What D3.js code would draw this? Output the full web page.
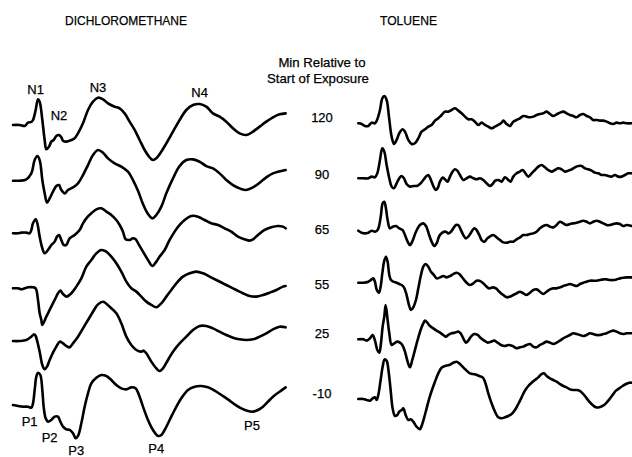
<!DOCTYPE html>
<html><head><meta charset="utf-8">
<script src="https://cdn.jsdelivr.net/npm/d3@7"></script>
<style>
html,body{margin:0;padding:0;background:#fff;}
svg text{font-family:"Liberation Sans",Arial,Helvetica,sans-serif;fill:#000;stroke:#000;stroke-width:0.25px;}
</style></head>
<body>
<svg id="chart" width="632" height="457"></svg>
<script>
// ---------- DATA: [time, amplitude] samples ----------
const panels = ["DICHLOROMETHANE", "TOLUENE"];
const timeLabels = ["120", "90", "65", "55", "25", "-10"];

const dcm120 = [[0,0],[20,0],[35,-3],[45,7],[55,9],[60,15],[68,45],[75,77],[80,70],[88,15],[95,-45],[100,-73],[108,-65],[115,-50],[122,-45],[130,-33],[138,-30],[145,-37],[150,-47],[160,-50],[175,-45],[185,-40],[195,-25],[210,5],[225,45],[240,70],[255,82],[270,77],[285,65],[305,55],[320,50],[335,35],[350,10],[365,-15],[380,-45],[395,-75],[410,-97],[420,-105],[430,-100],[445,-80],[460,-55],[480,-20],[500,15],[520,45],[540,60],[560,63],[580,55],[600,35],[620,25],[640,10],[660,-10],[680,-25],[700,-30],[720,-20],[740,-5],[760,10],[780,23],[800,32],[818,35]];
const dcm90 = [[0,0],[20,0],[40,4],[55,22],[65,62],[73,74],[80,62],[88,2],[95,-38],[102,-66],[110,-53],[120,-33],[130,-16],[138,-13],[145,-28],[155,-38],[165,-28],[180,-20],[195,-8],[210,17],[225,47],[240,77],[255,92],[270,84],[285,67],[305,52],[325,42],[345,27],[360,2],[375,-30],[390,-70],[405,-100],[418,-113],[430,-103],[445,-78],[460,-38],[480,7],[500,44],[520,62],[540,64],[560,57],[580,44],[600,37],[620,22],[640,2],[660,-13],[680,-23],[700,-28],[720,-20],[740,-6],[760,10],[780,22],[818,32]];
const dcm65 = [[0,0],[15,0],[25,2],[40,2],[50,0],[55,10],[60,30],[68,42],[73,30],[80,-10],[88,-45],[95,-60],[105,-50],[115,-35],[125,-25],[132,-10],[138,-5],[145,-20],[152,-35],[160,-35],[170,-15],[185,-5],[200,10],[210,30],[220,45],[235,60],[250,72],[265,75],[280,65],[295,55],[310,40],[320,25],[330,5],[338,-18],[350,-20],[360,-15],[368,-18],[378,-35],[390,-55],[405,-80],[418,-98],[430,-85],[440,-70],[455,-50],[470,-20],[485,5],[500,25],[515,40],[535,52],[555,50],[575,40],[595,30],[615,25],[635,15],[655,5],[675,-10],[695,-18],[710,-22],[720,-18],[735,-5],[755,10],[775,18],[795,22],[810,20],[818,15]];
const dcm55 = [[0,0],[15,0],[25,-3],[35,0],[45,3],[60,3],[68,0],[75,-35],[80,-75],[85,-95],[88,-110],[100,-85],[110,-65],[125,-35],[135,-15],[142,-7],[150,-17],[160,-25],[175,-15],[190,5],[205,30],[220,65],[235,85],[250,105],[265,115],[280,110],[295,95],[310,75],[325,50],[340,20],[355,0],[370,-10],[385,-25],[400,-40],[415,-50],[430,-57],[445,-45],[460,-25],[475,-5],[490,15],[510,35],[530,45],[550,50],[570,45],[590,35],[610,25],[630,15],[650,5],[670,-5],[690,-15],[710,-23],[730,-25],[750,-20],[770,-13],[790,-5],[810,5],[818,7]];
const dcm25 = [[0,0],[20,0],[40,3],[55,13],[63,20],[68,15],[73,-2],[80,-32],[88,-72],[95,-85],[102,-77],[110,-57],[120,-35],[130,-17],[140,-2],[150,-7],[160,-15],[170,-19],[180,-7],[195,13],[210,38],[225,63],[240,88],[255,110],[270,118],[290,103],[310,83],[325,53],[340,13],[355,-12],[370,-27],[385,-32],[392,-29],[400,-37],[415,-62],[430,-82],[440,-90],[450,-82],[465,-57],[480,-32],[500,-7],[520,13],[540,33],[560,45],[580,45],[600,38],[620,28],[640,18],[660,10],[680,5],[700,3],[720,5],[740,13],[760,23],[780,35],[800,43],[818,41]];
const dcmM10 = [[0,0],[15,-3],[30,-5],[45,-5],[55,-8],[60,5],[65,45],[70,85],[75,97],[82,90],[88,45],[92,-5],[98,-40],[105,-50],[115,-45],[125,-35],[135,-35],[142,-50],[150,-65],[160,-73],[170,-75],[180,-85],[188,-100],[195,-93],[205,-55],[215,-5],[225,35],[235,65],[250,82],[265,90],[280,87],[295,75],[310,60],[325,50],[340,47],[355,53],[368,50],[378,30],[390,-5],[405,-45],[420,-75],[435,-93],[445,-90],[455,-75],[470,-45],[485,-15],[505,20],[525,45],[545,55],[565,57],[585,53],[605,43],[625,30],[645,17],[665,2],[685,-10],[705,-18],[720,-20],[735,-15],[750,-5],[765,10],[780,25],[800,40],[818,53]];

const tol120 = [[0,0],[10,-2],[20,-8],[30,-8],[40,2],[50,0],[57,12],[65,40],[72,75],[78,82],[85,70],[92,20],[100,-40],[107,-62],[115,-50],[123,-30],[133,-18],[140,-25],[150,-50],[160,-62],[170,-60],[180,-45],[190,-25],[200,-18],[210,-10],[220,-5],[230,8],[240,15],[250,25],[260,35],[270,35],[280,40],[290,45],[300,38],[310,30],[320,20],[330,12],[340,12],[350,5],[360,-5],[370,2],[380,-5],[390,-10],[400,-15],[410,-10],[420,-5],[430,2],[435,8],[445,-2],[455,-8],[465,5],[475,10],[485,15],[495,22],[505,20],[515,18],[525,20],[535,25],[545,28],[555,30],[565,35],[575,28],[585,22],[595,27],[605,32],[615,35],[625,30],[635,25],[645,22],[655,18],[665,25],[675,28],[685,22],[695,18],[705,10],[715,10],[725,8],[735,8],[745,5],[755,0],[765,-2],[775,2],[785,0],[795,2],[805,0],[820,0]];
const tol90 = [[0,0],[15,0],[30,0],[40,5],[50,3],[57,15],[65,55],[72,90],[78,80],[85,40],[93,0],[100,-25],[107,-30],[115,-15],[123,0],[130,7],[137,0],[145,-17],[155,-25],[165,-23],[175,-23],[185,-17],[195,-5],[203,5],[210,10],[217,-3],[225,-23],[232,-35],[238,-30],[245,-10],[253,2],[260,-3],[268,-10],[275,5],[283,20],[290,27],[297,23],[305,10],[315,-5],[325,0],[335,5],[345,0],[355,-3],[365,0],[375,-5],[385,-15],[395,-23],[403,-17],[411,-7],[420,-5],[430,-10],[440,3],[450,-5],[457,-10],[465,5],[475,15],[485,20],[493,25],[500,17],[510,5],[520,15],[530,25],[540,35],[550,40],[560,33],[570,25],[580,20],[590,25],[600,30],[610,27],[620,20],[630,23],[640,27],[650,33],[660,37],[670,37],[680,30],[690,27],[700,23],[710,17],[720,15],[730,10],[740,10],[750,7],[760,5],[770,10],[780,5],[790,5],[800,10],[810,15],[820,15]];
const tol65 = [[0,0],[10,-6],[20,-8],[30,-6],[40,0],[50,-3],[58,2],[63,17],[68,47],[73,82],[78,87],[83,67],[88,32],[95,7],[103,12],[113,14],[123,7],[133,2],[140,-13],[148,-33],[155,-43],[163,-30],[173,-3],[185,17],[195,22],[203,14],[211,-8],[220,-33],[228,-46],[235,-38],[243,-16],[252,-6],[263,-3],[270,-8],[278,-3],[285,7],[293,17],[300,17],[307,4],[315,-13],[323,-23],[330,-18],[338,-6],[348,7],[355,2],[363,-13],[370,-28],[378,-33],[387,-23],[397,-16],[405,-13],[415,-20],[425,-28],[435,-35],[445,-36],[455,-33],[465,-33],[475,-26],[485,-20],[495,-13],[505,-13],[515,-10],[525,-8],[535,-3],[545,7],[555,14],[565,17],[575,12],[585,10],[595,17],[605,27],[615,22],[625,17],[635,20],[645,22],[655,24],[665,27],[675,30],[685,27],[695,22],[705,27],[715,30],[725,27],[735,22],[745,17],[755,17],[765,20],[775,22],[785,20],[795,14],[805,17],[820,14]];
const tol55 = [[0,0],[15,0],[30,3],[40,10],[45,13],[50,3],[55,-20],[62,-30],[67,-12],[72,28],[78,66],[83,78],[88,63],[93,23],[98,8],[105,3],[115,0],[123,-4],[130,-7],[137,-14],[145,-37],[152,-67],[158,-82],[165,-74],[173,-52],[180,-17],[188,23],[195,48],[202,56],[210,48],[218,33],[227,23],[235,13],[245,16],[255,20],[265,16],[275,20],[285,26],[295,30],[303,26],[310,18],[318,8],[327,-2],[335,-7],[345,-2],[355,6],[363,6],[373,0],[383,-10],[393,-17],[403,-14],[413,-17],[423,-27],[435,-37],[445,-44],[455,-42],[465,-37],[475,-32],[485,-27],[495,-32],[505,-37],[515,-30],[525,-22],[535,-20],[545,-27],[555,-34],[565,-27],[575,-20],[585,-17],[595,-17],[605,-14],[615,-10],[625,-7],[635,-4],[645,-7],[655,-10],[665,-4],[675,0],[685,3],[695,6],[705,6],[715,6],[725,8],[735,10],[745,10],[755,8],[765,8],[775,10],[785,13],[795,15],[805,16],[820,16]];
const tol25 = [[0,0],[15,0],[25,-4],[35,3],[43,13],[50,-4],[57,-32],[63,-40],[68,-12],[73,38],[78,68],[82,103],[88,58],[93,18],[100,-17],[108,-12],[117,-7],[125,-10],[132,-17],[140,-37],[148,-67],[155,-84],[162,-62],[170,-32],[178,-2],[187,28],[195,48],[200,56],[207,50],[215,40],[225,33],[235,26],[245,20],[255,13],[263,8],[270,13],[280,18],[290,20],[300,23],[307,18],[315,3],[323,-10],[330,-4],[338,8],[348,16],[358,13],[368,3],[378,-4],[388,-10],[398,-7],[408,-4],[418,-10],[428,-17],[440,-20],[450,-17],[463,-20],[475,-27],[485,-24],[495,-22],[505,-17],[515,-14],[525,-22],[535,-24],[545,-17],[555,-12],[565,-7],[575,-10],[585,-14],[595,-10],[605,-4],[615,3],[625,8],[635,13],[645,18],[655,16],[665,13],[675,10],[685,13],[695,18],[705,16],[715,13],[725,13],[735,16],[745,18],[755,23],[765,26],[775,23],[785,18],[795,16],[805,18],[820,18]];
const tolM10 = [[0,0],[15,0],[25,-3],[35,-5],[43,2],[50,5],[55,-3],[60,12],[67,57],[73,97],[79,119],[85,115],[91,82],[97,27],[103,-28],[110,-51],[117,-48],[123,-38],[130,-33],[135,-28],[142,-48],[150,-63],[157,-61],[165,-68],[173,-81],[180,-88],[185,-91],[190,-81],[197,-58],[205,-28],[213,2],[221,27],[230,52],[240,77],[250,94],[260,99],[273,102],[285,109],[295,112],[303,107],[313,97],[323,87],[335,77],[350,74],[363,69],[373,65],[380,52],[390,17],[400,-13],[410,-38],[420,-55],[430,-58],[440,-55],[450,-51],[460,-45],[470,-33],[480,-15],[490,5],[500,25],[510,39],[520,49],[530,57],[540,65],[550,75],[557,77],[565,69],[575,62],[585,57],[595,52],[605,45],[615,39],[625,35],[635,29],[645,27],[655,27],[663,25],[673,17],[683,5],[693,-8],[703,-18],[713,-25],[723,-25],[733,-21],[743,-13],[753,-1],[763,12],[773,25],[783,32],[793,39],[803,45],[813,49],[820,49]];

const dcmTraces = [dcm120, dcm90, dcm65, dcm55, dcm25, dcmM10];
const tolTraces = [tol120, tol90, tol65, tol55, tol25, tolM10];

// peak labels: [label, time, amplitude offset from the trace baseline]
const nLabels = [["N1",68,92],["N2",138,15],["N3",255,100],["N4",560,85]];
const pLabels = [["P1",50,-63],["P2",110,-110],["P3",190,-150],["P4",430,-145],["P5",717,-75]];

// ---------- LAYOUT ----------
const svg = d3.select("#chart");
const leftX = d3.scaleLinear().domain([0, 820]).range([13, 286.3]);
const rightX = d3.scaleLinear().domain([0, 820]).range([358.3, 631.6]);
const amp = d3.scaleLinear().domain([0, 100]).range([0, -33.3]);
const leftBase = [125, 180.7, 233.3, 288.3, 341, 405];
const rightBase = [123.3, 178.3, 230.7, 282.7, 339.3, 399];

function drawTrace(data, xs, base) {
  const line = d3.line()
    .x(d => xs(d[0]))
    .y(d => base + amp(d[1]))
    .curve(d3.curveCatmullRom.alpha(0.5));
  svg.append("path")
    .attr("d", line(data))
    .attr("fill", "none")
    .attr("stroke", "#000")
    .attr("stroke-width", 2.6)
    .attr("stroke-linejoin", "round")
    .attr("stroke-linecap", "round");
}
dcmTraces.forEach((t, i) => drawTrace(t, leftX, leftBase[i]));
tolTraces.forEach((t, i) => drawTrace(t, rightX, rightBase[i]));

// titles
svg.append("text").attr("x", 126).attr("y", 25).attr("text-anchor", "middle")
  .attr("font-size", 13.5).attr("textLength", 122).attr("lengthAdjust", "spacingAndGlyphs")
  .text(panels[0]);
svg.append("text").attr("x", 408.5).attr("y", 25).attr("text-anchor", "middle")
  .attr("font-size", 13.5).attr("textLength", 57).attr("lengthAdjust", "spacingAndGlyphs")
  .text(panels[1]);

// middle caption
svg.append("text").attr("x", 322).attr("y", 67).attr("text-anchor", "middle")
  .attr("font-size", 13.2).text("Min Relative to");
svg.append("text").attr("x", 318).attr("y", 83).attr("text-anchor", "middle")
  .attr("font-size", 13.2).text("Start of Exposure");

// time labels
const labelY = [122, 179, 234, 289, 338, 398];
timeLabels.forEach((t, i) => {
  svg.append("text").attr("x", 322).attr("y", labelY[i]).attr("text-anchor", "middle")
    .attr("font-size", 13).text(t);
});

// peak labels on first / last DCM traces
nLabels.forEach(([l, t, a]) => {
  svg.append("text").attr("x", leftX(t)).attr("y", leftBase[0] + amp(a))
    .attr("text-anchor", "middle").attr("font-size", 13).text(l);
});
pLabels.forEach(([l, t, a]) => {
  svg.append("text").attr("x", leftX(t)).attr("y", leftBase[5] + amp(a))
    .attr("text-anchor", "middle").attr("font-size", 13).text(l);
});
</script>
</body></html>
